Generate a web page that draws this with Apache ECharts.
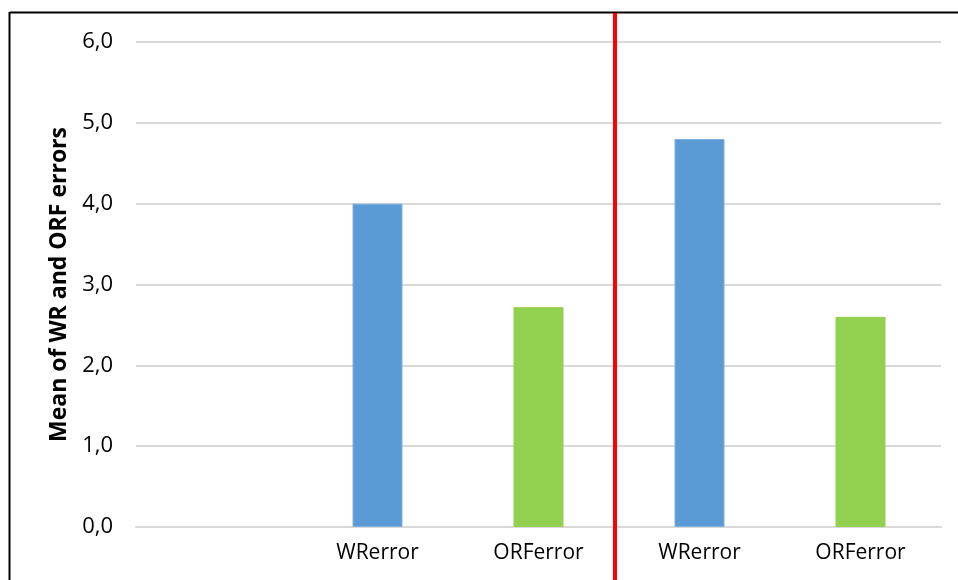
<!DOCTYPE html>
<html>
<head>
<meta charset="utf-8">
<title>Mean of WR and ORF errors</title>
<script src="https://cdn.jsdelivr.net/npm/echarts@6/dist/echarts.min.js"></script>
<style>
  html, body { margin: 0; padding: 0; background: #ffffff; }
  #chart { width: 958px; height: 580px; }
</style>
</head>
<body>
<div id="chart"></div>
<script>
// Categories along the x axis (first slot is left empty)
const categories = ['', 'WRerror', 'ORFerror', 'WRerror', 'ORFerror'];
// Mean error per category
const meanErrors = [null, 4.0, 2.72, 4.8, 2.6];
// Y axis range and step
const yMin = 0;
const yMax = 6;
const yStep = 1;
// Position of the group divider, in category units from the left edge
const dividerAt = 2.975;

const colorFor = name => name === 'WRerror' ? '#5B9BD5' : '#92D050';
const borderFor = name => name === 'WRerror' ? '#7EB0DE' : '#92D050';

const chart = echarts.init(document.getElementById('chart'), null, { renderer: 'canvas' });
const FONT = '"Open Sans", "Liberation Sans", sans-serif';

const option = {
  backgroundColor: '#ffffff',
  animation: false,
  grid: { left: 136, right: 17, top: 42, bottom: 53, containLabel: false },
  xAxis: [
    {
      type: 'category',
      data: categories,
      axisLine: { show: true, lineStyle: { color: '#D9D9D9', width: 2 } },
      axisTick: { show: false },
      axisLabel: { color: '#000000', fontFamily: FONT, fontSize: 21, margin: 16, interval: 0 },
      splitLine: { show: false }
    },
    {
      // helper axis spanning the same width, used to place the divider
      type: 'value', min: 0, max: categories.length, show: false
    }
  ],
  yAxis: {
    type: 'value',
    min: yMin,
    max: yMax,
    interval: yStep,
    name: 'Mean of WR and ORF errors',
    nameLocation: 'middle',
    nameGap: 63,
    nameRotate: 90,
    nameTextStyle: { color: '#000000', fontFamily: FONT, fontSize: 23, fontWeight: 'bold' },
    axisLine: { show: false },
    axisTick: { show: false },
    axisLabel: {
      color: '#000000', fontFamily: FONT, fontSize: 22, margin: 23,
      formatter: v => v.toFixed(1).replace('.', ',')
    },
    splitLine: { show: true, lineStyle: { color: '#D9D9D9', width: 2 } }
  },
  series: [
    {
      type: 'bar',
      xAxisIndex: 0,
      barWidth: 50,
      data: meanErrors.map((v, i) => ({
        value: v,
        itemStyle: { color: colorFor(categories[i]), borderColor: borderFor(categories[i]), borderWidth: 1 }
      }))
    }
  ]
};

chart.setOption(option);

// Frame lines and red group divider
const dividerX = Math.round(chart.convertToPixel({ xAxisIndex: 1 }, dividerAt));
chart.setOption({
  graphic: [
    { type: 'line', shape: { x1: 9.5, y1: 12.5, x2: 958, y2: 12.5 }, style: { stroke: '#000000', lineWidth: 2 }, z: 100 },
    { type: 'line', shape: { x1: 9.5, y1: 12, x2: 9.5, y2: 580 }, style: { stroke: '#000000', lineWidth: 2 }, z: 100 },
    { type: 'line', shape: { x1: dividerX, y1: 13, x2: dividerX, y2: 580 }, style: { stroke: '#FF0000', lineWidth: 4 }, z: 101 }
  ]
});
</script>
</body>
</html>
